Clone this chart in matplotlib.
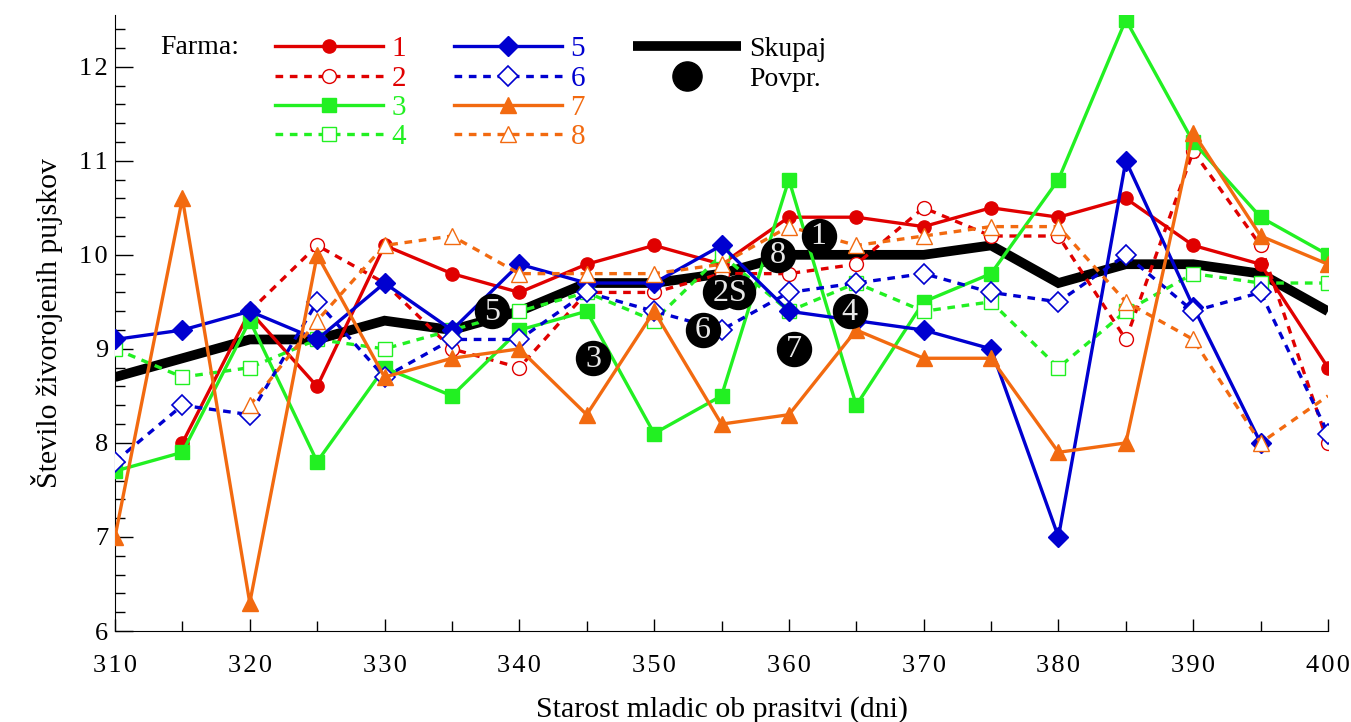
import numpy as np
import matplotlib
matplotlib.use("Agg")
import matplotlib.pyplot as plt
from matplotlib.lines import Line2D
from matplotlib.ticker import MultipleLocator, FixedLocator

plt.rcParams['font.family'] = ['Liberation Serif', 'DejaVu Serif']

nan = np.nan
age = [310, 315, 320, 325, 330, 335, 340, 345, 350, 355,
       360, 365, 370, 375, 380, 385, 390, 395, 400]

farm1 = [nan, 8.0, 9.4, 8.6, 10.1, 9.8, 9.6, 9.9, 10.1, 9.9,
         10.4, 10.4, 10.3, 10.5, 10.4, 10.6, 10.1, 9.9, 8.8]
farm2 = [nan, nan, 9.4, 10.1, 9.7, 9.0, 8.8, 9.6, 9.6, 9.8,
         9.8, 9.9, 10.5, 10.2, 10.2, 9.1, 11.1, 10.1, 8.0]
farm3 = [7.7, 7.9, 9.3, 7.8, 8.8, 8.5, 9.2, 9.4, 8.1, 8.5,
         10.8, 8.4, 9.5, 9.8, 10.8, 12.5, 11.2, 10.4, 10.0]
farm4 = [9.0, 8.7, 8.8, 9.1, 9.0, 9.2, 9.4, 9.6, 9.3, 10.0,
         9.4, 9.7, 9.4, 9.5, 8.8, 9.4, 9.8, 9.7, 9.7]
farm5 = [9.1, 9.2, 9.4, 9.1, 9.7, 9.2, 9.9, 9.7, 9.7, 10.1,
         9.4, 9.3, 9.2, 9.0, 7.0, 11.0, 9.45, 8.0, nan]
farm6 = [7.8, 8.4, 8.3, 9.5, 8.7, 9.1, 9.1, 9.6, 9.4, 9.2,
         9.6, 9.7, 9.8, 9.6, 9.5, 10.0, 9.4, 9.6, 8.1]
farm7 = [7.0, 10.6, 6.3, 10.0, 8.7, 8.9, 9.0, 8.3, 9.4, 8.2,
         8.3, 9.2, 8.9, 8.9, 7.9, 8.0, 11.3, 10.2, 9.9]
farm8 = [nan, nan, 8.4, 9.3, 10.1, 10.2, 9.8, 9.8, 9.8, 9.9,
         10.3, 10.1, 10.2, 10.3, 10.3, 9.5, 9.1, 8.0, 8.5]
skupaj = [8.7, 8.9, 9.1, 9.1, 9.3, 9.2, 9.4, 9.7, 9.7, 9.8,
          10.0, 10.0, 10.0, 10.1, 9.7, 9.9, 9.9, 9.8, 9.4]

avg_labels = ['1', '8', '5', '2', 'S', '6', '3', '7', '4']
avg_x = [362.2, 359.2, 338.0, 354.9, 356.2, 353.6, 345.5, 360.4, 364.5]
avg_y = [10.2, 10.0, 9.4, 9.6, 9.6, 9.2, 8.9, 9.0, 9.4]

farm_names = ['1', '2', '3', '4', '5', '6', '7', '8']
x_ticks = [310, 320, 330, 340, 350, 360, 370, 380, 390, 400]
y_ticks = [6, 7, 8, 9, 10, 11, 12]

RED = '#e00000'
GREEN = '#22f022'
BLUE = '#0000d0'
ORANGE = '#f26a10'

fig = plt.figure(figsize=(13.51, 7.22), dpi=100)
ax = fig.add_axes([115 / 1351, 1 - 631 / 722, (1328 - 115) / 1351, (631 - 15) / 722])

dash = (0, (2.3, 2.0))
lw = 2.4
styles = [
    dict(color=RED, ls='-', marker='o', ms=9.5, mfc=RED, mec=RED),
    dict(color=RED, ls=dash, marker='o', ms=10, mfc='white', mec=RED, mew=1.0),
    dict(color=GREEN, ls='-', marker='s', ms=9.5, mfc=GREEN, mec=GREEN),
    dict(color=GREEN, ls=dash, marker='s', ms=10, mfc='white', mec=GREEN, mew=1.0),
    dict(color=BLUE, ls='-', marker='D', ms=10, mfc=BLUE, mec=BLUE),
    dict(color=BLUE, ls=dash, marker='D', ms=10.5, mfc='white', mec=BLUE, mew=1.2),
    dict(color=ORANGE, ls='-', marker='^', ms=11, mfc=ORANGE, mec=ORANGE),
    dict(color=ORANGE, ls=dash, marker='^', ms=11, mfc='white', mec=ORANGE, mew=1.0),
]
farms = [farm1, farm2, farm3, farm4, farm5, farm6, farm7, farm8]

sk, = ax.plot(age, skupaj, color='black', lw=7, solid_capstyle='butt',
              solid_joinstyle='miter', zorder=2, label='Skupaj')

handles = []
for i, (vals, st) in enumerate(zip(farms, styles)):
    extra = {}
    if i == 7:
        extra['markevery'] = list(range(len(age) - 1))
    h, = ax.plot(age, vals, lw=lw, zorder=3 + i * 0.1, label=farm_names[i], **st, **extra)
    handles.append(h)

ax.scatter(avg_x, avg_y, s=24.5 ** 2, color='black', zorder=10)
for lab, xx, yy in zip(avg_labels, avg_x, avg_y):
    ax.text(xx, yy - 0.01, lab, color='#e8e8e8', fontsize=23, ha='center', va='center', zorder=11)

ax.set_xlim(310, 400)
ax.set_ylim(6, 12.55)
ax.xaxis.set_major_locator(FixedLocator(x_ticks))
ax.xaxis.set_minor_locator(MultipleLocator(5))
ax.yaxis.set_major_locator(FixedLocator(y_ticks))
ax.yaxis.set_minor_locator(MultipleLocator(0.2))
ax.set_xticklabels(['\u200a'.join(str(t)) for t in x_ticks])
ax.set_yticklabels(['\u200a'.join(str(t)) for t in y_ticks])
ax.tick_params(axis='both', which='major', direction='in', length=13, width=1, labelsize=19)
ax.tick_params(axis='both', which='minor', direction='in', length=7, width=1)
ax.tick_params(axis='x', which='major', length=9, pad=17)
ax.tick_params(axis='y', which='major', pad=5)
ax.spines['top'].set_visible(False)
ax.spines['right'].set_visible(False)
ax.set_xlabel('Starost mladic ob prasitvi (dni)', fontsize=21.5, labelpad=14)
ax.set_ylabel('Število živorojenih pujskov', fontsize=21.5, labelpad=12)

povpr = Line2D([], [], ls='none', marker='o', ms=21, color='black', label='Povpr.')
blank1 = Line2D([], [], ls='none', label=' ')
blank2 = Line2D([], [], ls='none', label=' ')
leg_handles = handles[0:4] + handles[4:8] + [sk, povpr, blank1, blank2]
colors = [RED, RED, GREEN, GREEN, BLUE, BLUE, ORANGE, ORANGE, 'black', 'black', 'black', 'black']
leg = ax.legend(handles=leg_handles, ncol=3, frameon=False, fontsize=21,
                loc='upper left', bbox_to_anchor=(275 / 1351, 1 - 36 / 722),
                bbox_transform=fig.transFigure, borderpad=0, borderaxespad=0,
                handlelength=3.7, handletextpad=0.3, columnspacing=1.63,
                labelspacing=0.10, labelcolor=colors)
for t in leg.get_texts()[8:]:
    t.set_fontsize(20)
fig.text(160 / 1351, 1 - 47 / 722, 'Farma:', fontsize=20, ha='left', va='center')

fig.savefig('out.png', dpi=100)
